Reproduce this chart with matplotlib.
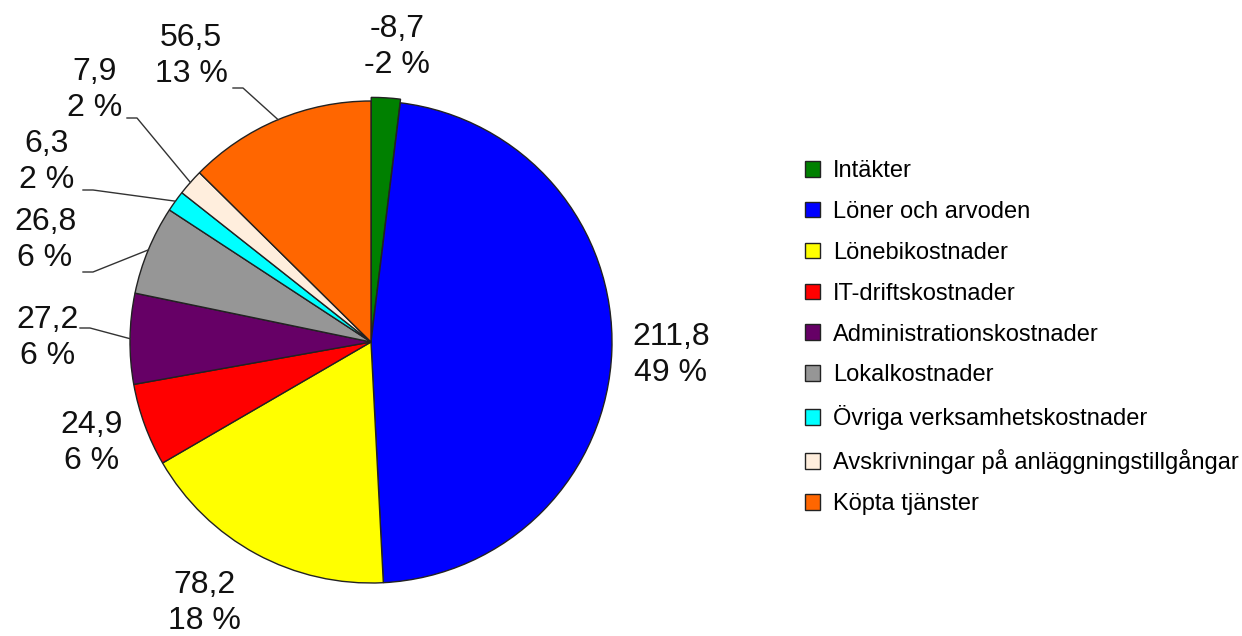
import matplotlib.pyplot as plt
import numpy as np

plt.rcParams['font.family'] = ['Liberation Sans', 'DejaVu Sans']

categories = ["Intäkter", "Löner och arvoden", "Lönebikostnader", "IT-driftskostnader",
              "Administrationskostnader", "Lokalkostnader", "Övriga verksamhetskostnader",
              "Avskrivningar på anläggningstillgångar", "Köpta tjänster"]
amounts = [-8.7, 211.8, 78.2, 24.9, 27.2, 26.8, 6.3, 7.9, 56.5]
value_labels = ["-8,7", "211,8", "78,2", "24,9", "27,2", "26,8", "6,3", "7,9", "56,5"]
pct_labels = ["-2 %", "49 %", "18 %", "6 %", "6 %", "6 %", "2 %", "2 %", "13 %"]
colors = ["#008000", "#0000FF", "#FFFF00", "#FF0000", "#660066",
          "#969696", "#00FFFF", "#FFEEDD", "#FF6600"]

# layout in pixels (figure 1242x636)
W, H = 1242, 636
CX, CY, R = 371, 342, 241
label_pos = [(397, 47), (671, 355), (204, 603), (92, 443), (48, 338),
             (45, 240), (47, 162), (95, 90), (191, 56)]
# leader line start (text side), None = no leader
leader_start = [None, None, None, None, (80, 328), (83, 272), (83, 190), (127, 118), (233, 88)]


def px(x, y):
    return (x - CX) / R, (CY - y) / R


fig = plt.figure(figsize=(W / 100, H / 100), dpi=100)
ax = fig.add_axes([0, 0, 1, 1])

sizes = [abs(v) for v in amounts]
explode = [0.015] + [0] * (len(sizes) - 1)
wedges, _ = ax.pie(sizes, colors=colors, startangle=90, counterclock=False,
                   explode=explode, radius=1,
                   wedgeprops=dict(edgecolor="#222222", linewidth=1.0))

for i, w in enumerate(wedges):
    tx, ty = px(*label_pos[i])
    ax.text(tx, ty, value_labels[i] + "\n" + pct_labels[i], ha="center", va="center",
            fontsize=23, color="#111111", linespacing=1.26)
    if leader_start[i] is not None:
        mid = np.deg2rad((w.theta1 + w.theta2) / 2)
        ex, ey = np.cos(mid), np.sin(mid)
        sx, sy = px(*leader_start[i])
        kx, ky = px(leader_start[i][0] + 10, leader_start[i][1])
        ax.plot([sx, kx, ex], [sy, ky, ey], color="#333333", lw=1.0)

ax.set_xlim(-CX / R, (W - CX) / R)
ax.set_ylim(-(H - CY) / R, CY / R)
ax.axis("off")

ax.legend(wedges, categories, loc="upper left", bbox_to_anchor=(805 / W, 1 - 160 / H),
          bbox_transform=fig.transFigure, frameon=False, fontsize=17,
          handlelength=0.64, handleheight=0.64, handletextpad=0.55,
          labelspacing=0.8, borderpad=0, borderaxespad=0)

fig.savefig("out.png", dpi=100)
